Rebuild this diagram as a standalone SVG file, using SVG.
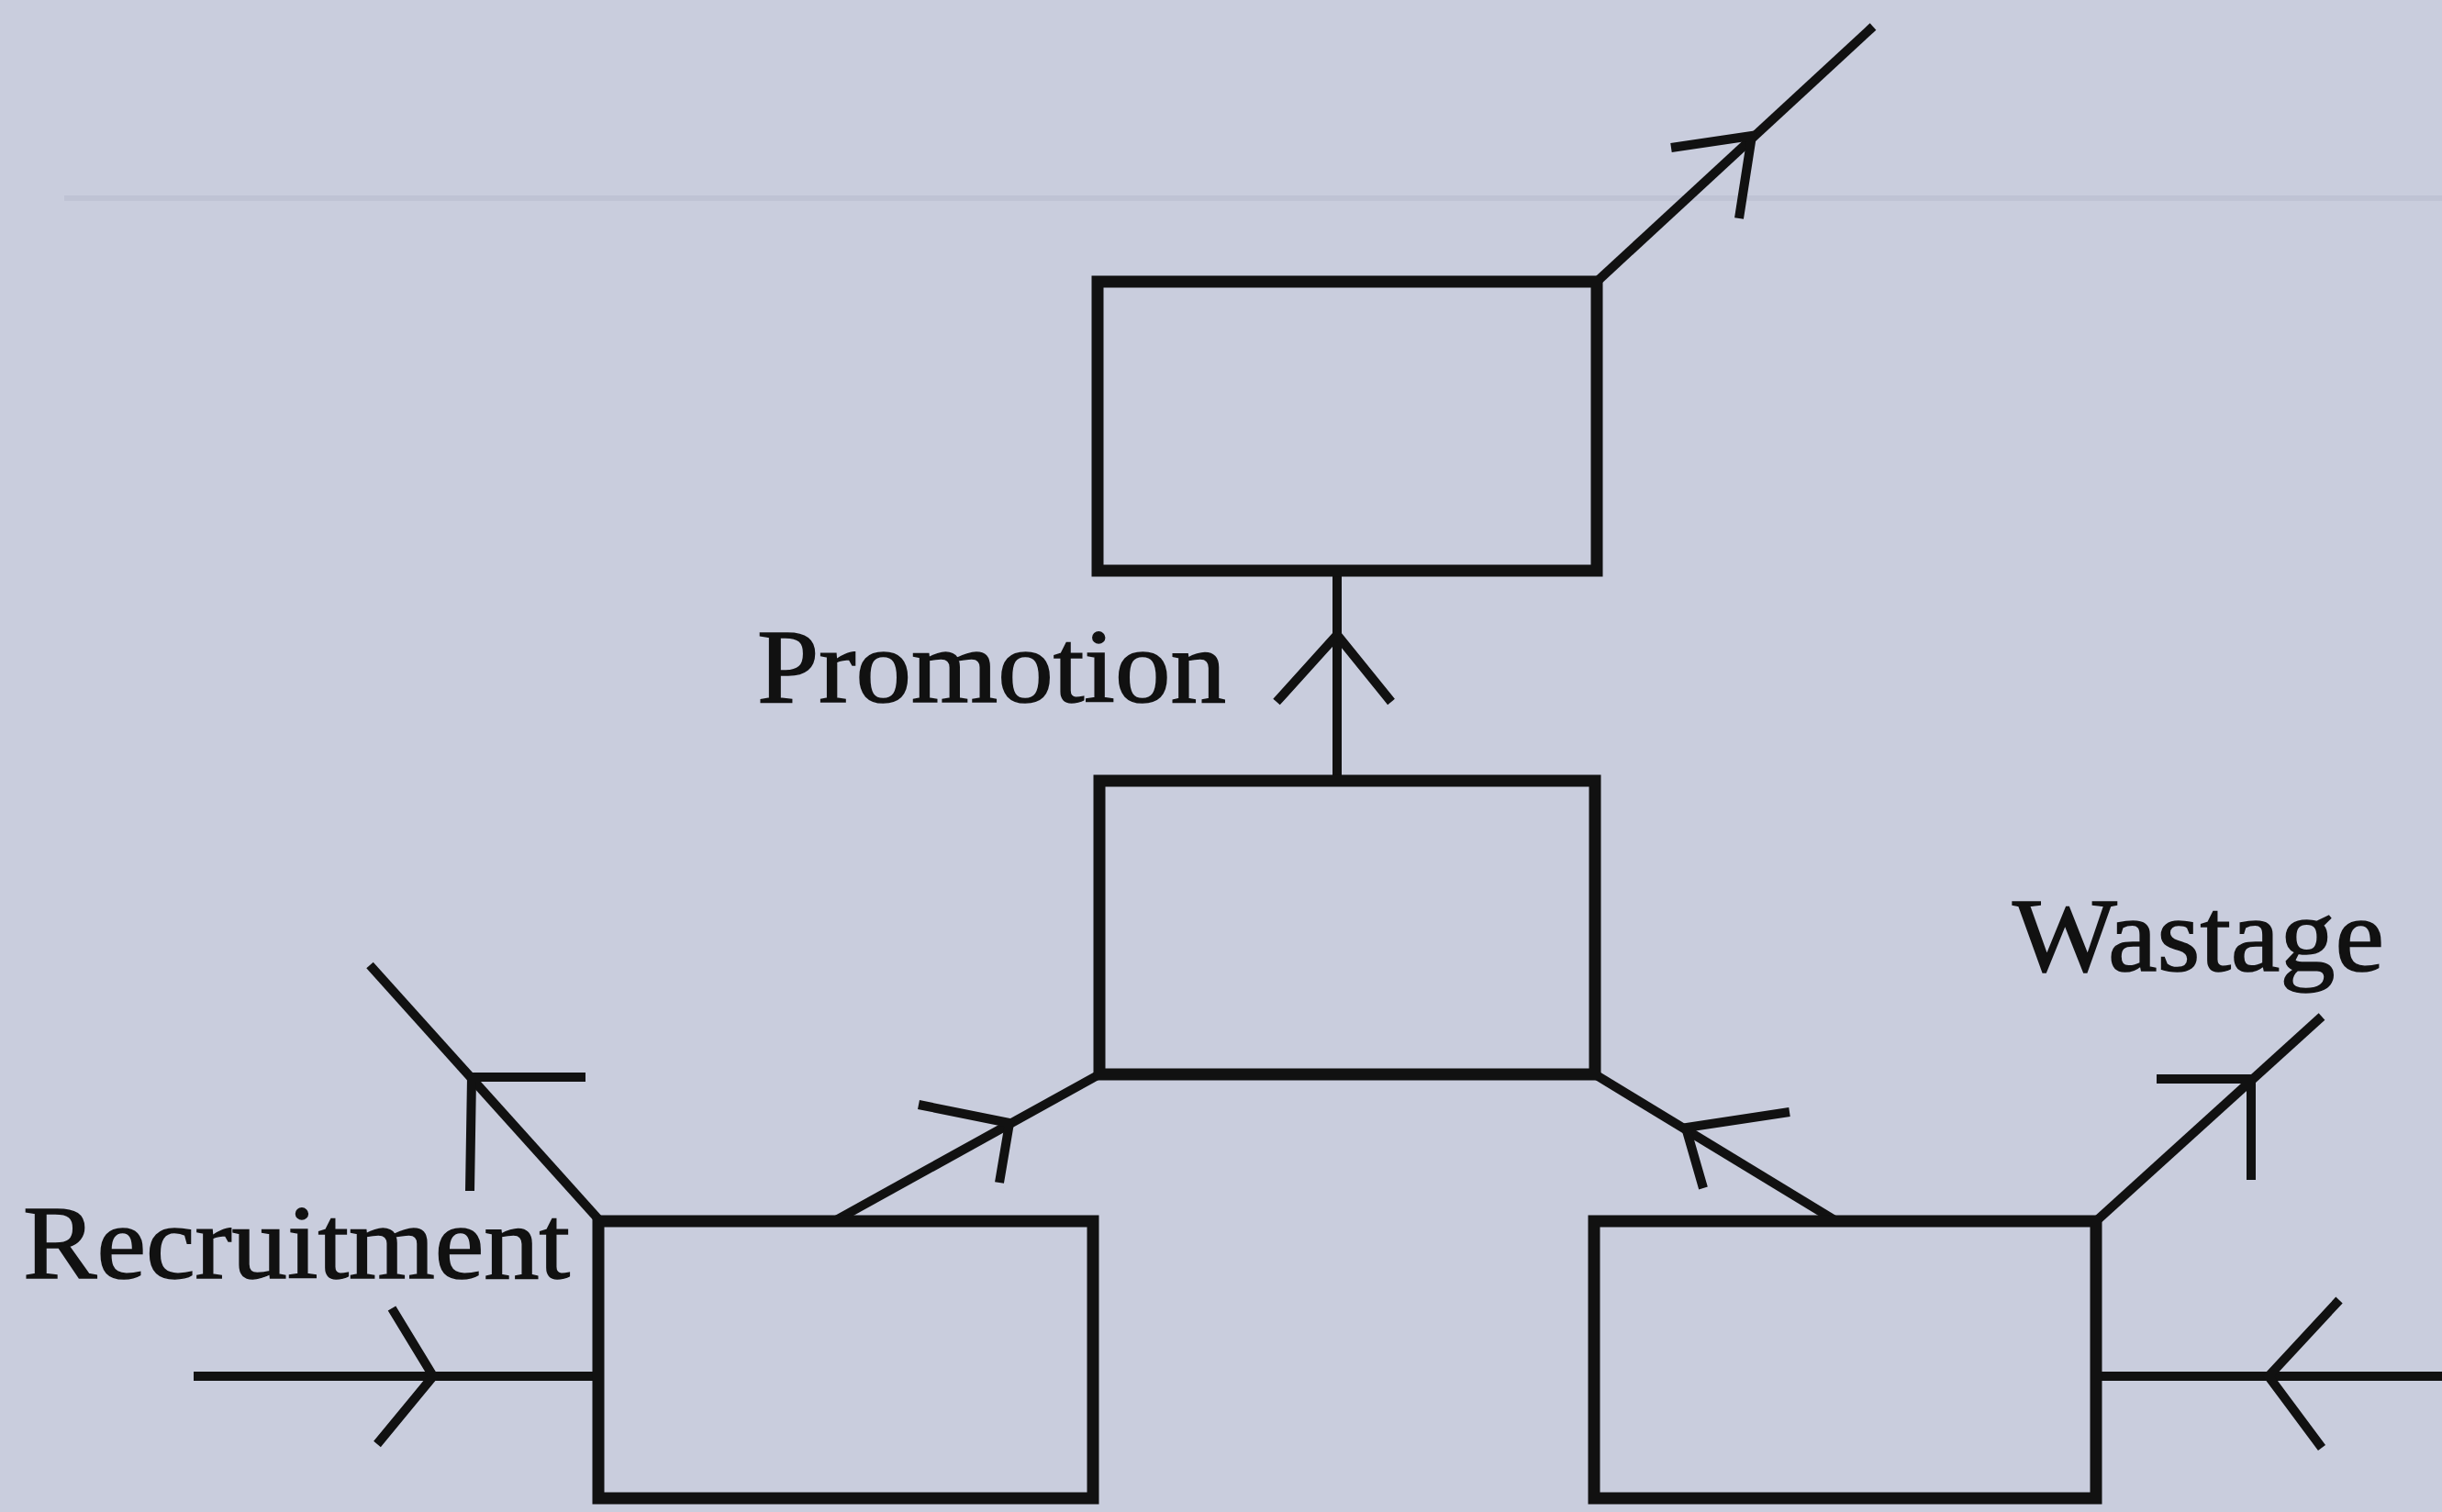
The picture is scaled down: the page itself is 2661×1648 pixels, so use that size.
<svg xmlns="http://www.w3.org/2000/svg" width="2661" height="1648" viewBox="0 0 2661 1648">
  <style>
    .bg { fill: #c9cddd; }
    .rule { stroke: #bfc3d4; stroke-width: 6; fill: none; }
    .box { fill: none; stroke: #111; stroke-width: 13; stroke-linejoin: miter; }
    .line { fill: none; stroke: #111; stroke-width: 10; stroke-linecap: butt; stroke-linejoin: miter; }
    .head { fill: none; stroke: #111; stroke-width: 10; stroke-linecap: butt; stroke-linejoin: miter; }
    .label { font-family: "Liberation Serif", "Times New Roman", serif; font-size: 115px; fill: #111; stroke: #111; stroke-width: 1.5; }
  </style>
  <rect class="bg" x="0" y="0" width="2661" height="1648"/>
  <line class="rule" x1="70" y1="216" x2="2661" y2="216"/>

  <g id="connectors">
    <!-- B to A (promotion) -->
    <path class="line" d="M1457 851 L1457 622"/>
    <path class="head" d="M1391 765 L1457 692 L1516 765"/>
    <!-- A out -->
    <path class="line" d="M1740 307 L2041 29"/>
    <path class="head" d="M1821 161 L1909 148 L1895 238"/>
    <!-- C to B -->
    <path class="line" d="M909 1331 L1198 1171"/>
    <path class="head" d="M1001 1204 L1100 1224 L1089 1289"/>
    <!-- C out (up-left) -->
    <path class="line" d="M654 1331 L403 1052"/>
    <path class="head" d="M638 1174 L514 1174 L512 1298"/>
    <!-- Recruitment in -->
    <path class="line" d="M211 1500 L652 1500"/>
    <path class="head" d="M427 1426 L472 1500 L411 1574"/>
    <!-- D to B -->
    <path class="line" d="M2001 1331 L1738 1171"/>
    <path class="head" d="M1950 1212 L1837 1229 L1856 1295"/>
    <!-- D out (wastage) -->
    <path class="line" d="M2284 1331 L2530 1108"/>
    <path class="head" d="M2350 1176 L2453 1176 L2453 1286"/>
    <!-- Right in -->
    <path class="line" d="M2661 1500 L2284 1500"/>
    <path class="head" d="M2549 1417 L2472 1500 L2530 1578"/>
  </g>

  <g id="box-top">
    <rect class="box" x="1196" y="307" width="544" height="315"/>
  </g>
  <g id="box-middle">
    <rect class="box" x="1198" y="851" width="540" height="320"/>
  </g>
  <g id="box-bottom-left">
    <rect class="box" x="652" y="1331" width="539" height="302"/>
  </g>
  <g id="box-bottom-right">
    <rect class="box" x="1737" y="1331" width="547" height="302"/>
  </g>

  <g id="labels">
    <text class="label" x="825" y="765" textLength="511" lengthAdjust="spacingAndGlyphs">Promotion</text>
    <text class="label" x="25" y="1393" textLength="596" lengthAdjust="spacingAndGlyphs">Recruitment</text>
    <text class="label" x="2193" y="1058" textLength="405" lengthAdjust="spacingAndGlyphs">Wastage</text>
  </g>
</svg>
